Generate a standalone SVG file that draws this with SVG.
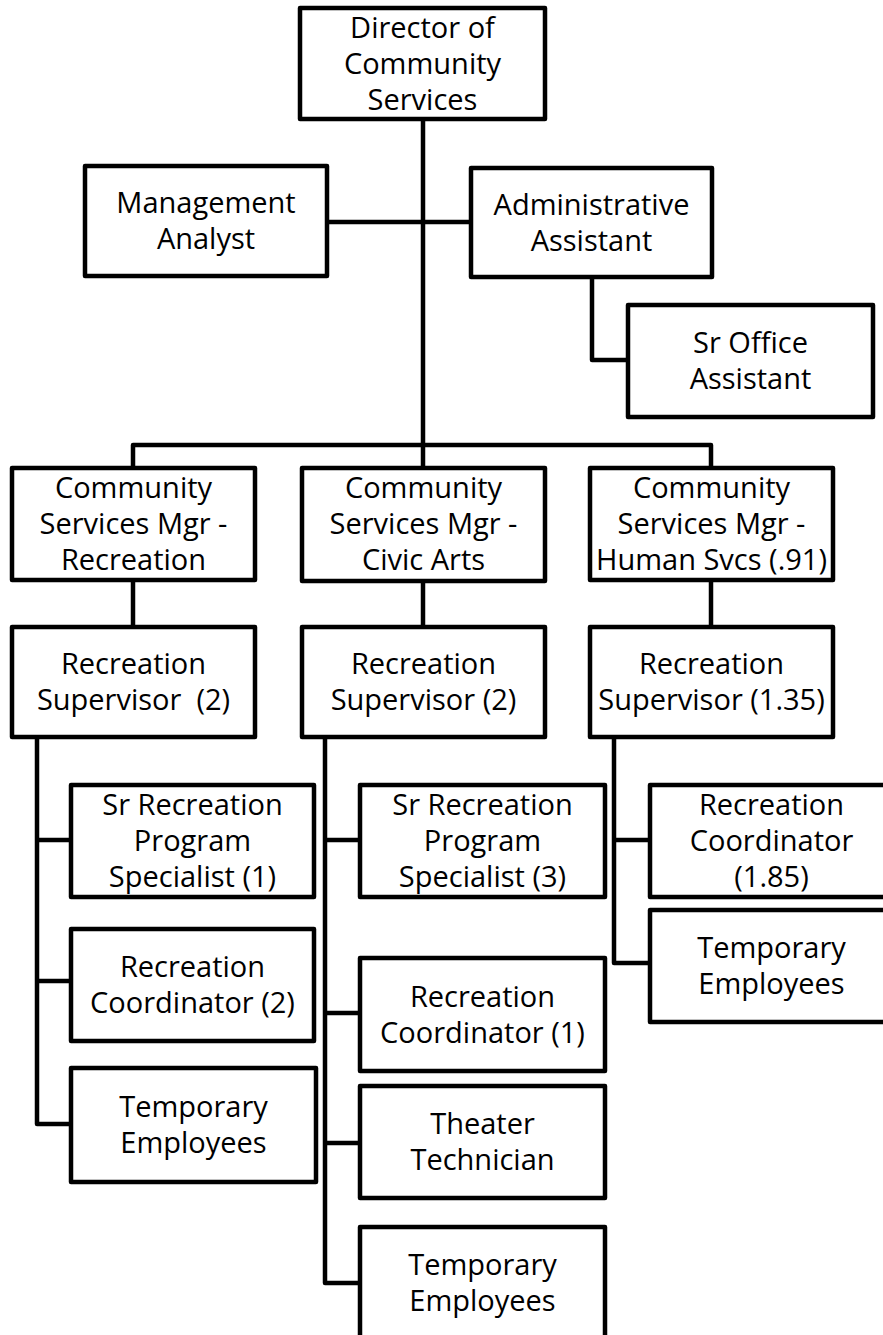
<svg xmlns="http://www.w3.org/2000/svg" width="883" height="1335" viewBox="0 0 883 1335">
<style>
.box{fill:#fff;stroke:#000;stroke-width:4.5;stroke-linejoin:round}
.lbl{font-family:"Open Sans","Noto Sans","Liberation Sans",sans-serif;font-size:29px;fill:#000;text-anchor:middle}
.con{fill:none;stroke:#000;stroke-width:4.5;stroke-linejoin:round}
</style>
<rect width="883" height="1335" fill="#fff"/>
<g id="connectors">
<path class="con" d="M423 119 V468"/>
<path class="con" d="M328 222 H471"/>
<path class="con" d="M592 278 V360 H628"/>
<path class="con" d="M133 468 V445 H711 V468"/>
<path class="con" d="M133 580 V627"/>
<path class="con" d="M423 581 V627"/>
<path class="con" d="M711 580 V627"/>
<path class="con" d="M37 737 V1124 H71 M37 840 H71 M37 981 H71"/>
<path class="con" d="M325 737 V1283 H360 M325 840 H360 M325 1013 H360 M325 1143 H360"/>
<path class="con" d="M614 737 V963 H650 M614 840 H650"/>
</g>
<g id="director"><rect class="box" x="300" y="8" width="245" height="111"/>
<text class="lbl" x="422.5" y="37.5">Director of</text><text class="lbl" x="422.5" y="73.5">Community</text><text class="lbl" x="422.5" y="109.5">Services</text></g>
<g id="mgmt-analyst"><rect class="box" x="85" y="166" width="242" height="110"/>
<text class="lbl" x="206" y="213">Management</text><text class="lbl" x="206" y="249">Analyst</text></g>
<g id="admin-assistant"><rect class="box" x="471" y="168" width="241" height="109"/>
<text class="lbl" x="591.5" y="214.5">Administrative</text><text class="lbl" x="591.5" y="250.5">Assistant</text></g>
<g id="sr-office-assistant"><rect class="box" x="628" y="305" width="245" height="112"/>
<text class="lbl" x="750.5" y="353">Sr Office</text><text class="lbl" x="750.5" y="389">Assistant</text></g>
<g id="mgr-recreation"><rect class="box" x="12" y="468" width="243" height="112"/>
<text class="lbl" x="133.5" y="498">Community</text><text class="lbl" x="133.5" y="534">Services Mgr -</text><text class="lbl" x="133.5" y="570">Recreation</text></g>
<g id="mgr-civic-arts"><rect class="box" x="302" y="468" width="243" height="113"/>
<text class="lbl" x="423.5" y="498">Community</text><text class="lbl" x="423.5" y="534">Services Mgr -</text><text class="lbl" x="423.5" y="570">Civic Arts</text></g>
<g id="mgr-human-svcs"><rect class="box" x="590" y="468" width="243" height="112"/>
<text class="lbl" x="711.5" y="498">Community</text><text class="lbl" x="711.5" y="534">Services Mgr -</text><text class="lbl" x="711.5" y="570">Human Svcs (.91)</text></g>
<g id="sup-recreation"><rect class="box" x="12" y="627" width="243" height="110"/>
<text class="lbl" x="133.5" y="674">Recreation</text><text class="lbl" x="133.5" y="710" xml:space="preserve">Supervisor  (2)</text></g>
<g id="sup-civic-arts"><rect class="box" x="302" y="627" width="243" height="110"/>
<text class="lbl" x="423.5" y="674">Recreation</text><text class="lbl" x="423.5" y="710">Supervisor (2)</text></g>
<g id="sup-human-svcs"><rect class="box" x="590" y="627" width="243" height="110"/>
<text class="lbl" x="711.5" y="674">Recreation</text><text class="lbl" x="711.5" y="710">Supervisor (1.35)</text></g>
<g id="sr-rec-spec-1"><rect class="box" x="71" y="785" width="243" height="112"/>
<text class="lbl" x="192.5" y="815">Sr Recreation</text><text class="lbl" x="192.5" y="851">Program</text><text class="lbl" x="192.5" y="887">Specialist (1)</text></g>
<g id="rec-coord-2"><rect class="box" x="71" y="929" width="243" height="112"/>
<text class="lbl" x="192.5" y="977">Recreation</text><text class="lbl" x="192.5" y="1013">Coordinator (2)</text></g>
<g id="temp-recreation"><rect class="box" x="71" y="1068" width="245" height="114"/>
<text class="lbl" x="193.5" y="1117">Temporary</text><text class="lbl" x="193.5" y="1153">Employees</text></g>
<g id="sr-rec-spec-3"><rect class="box" x="360" y="785" width="245" height="112"/>
<text class="lbl" x="482.5" y="815">Sr Recreation</text><text class="lbl" x="482.5" y="851">Program</text><text class="lbl" x="482.5" y="887">Specialist (3)</text></g>
<g id="rec-coord-1"><rect class="box" x="360" y="958" width="245" height="113"/>
<text class="lbl" x="482.5" y="1006.5">Recreation</text><text class="lbl" x="482.5" y="1042.5">Coordinator (1)</text></g>
<g id="theater-tech"><rect class="box" x="360" y="1086" width="245" height="112"/>
<text class="lbl" x="482.5" y="1134">Theater</text><text class="lbl" x="482.5" y="1170">Technician</text></g>
<g id="temp-civic-arts"><rect class="box" x="360" y="1227" width="245" height="120"/>
<text class="lbl" x="482.5" y="1275">Temporary</text><text class="lbl" x="482.5" y="1311">Employees</text></g>
<g id="rec-coord-185"><rect class="box" x="650" y="785" width="243" height="112"/>
<text class="lbl" x="771.5" y="815">Recreation</text><text class="lbl" x="771.5" y="851">Coordinator</text><text class="lbl" x="771.5" y="887">(1.85)</text></g>
<g id="temp-human-svcs"><rect class="box" x="650" y="910" width="243" height="112"/>
<text class="lbl" x="771.5" y="958">Temporary</text><text class="lbl" x="771.5" y="994">Employees</text></g>
</svg>
